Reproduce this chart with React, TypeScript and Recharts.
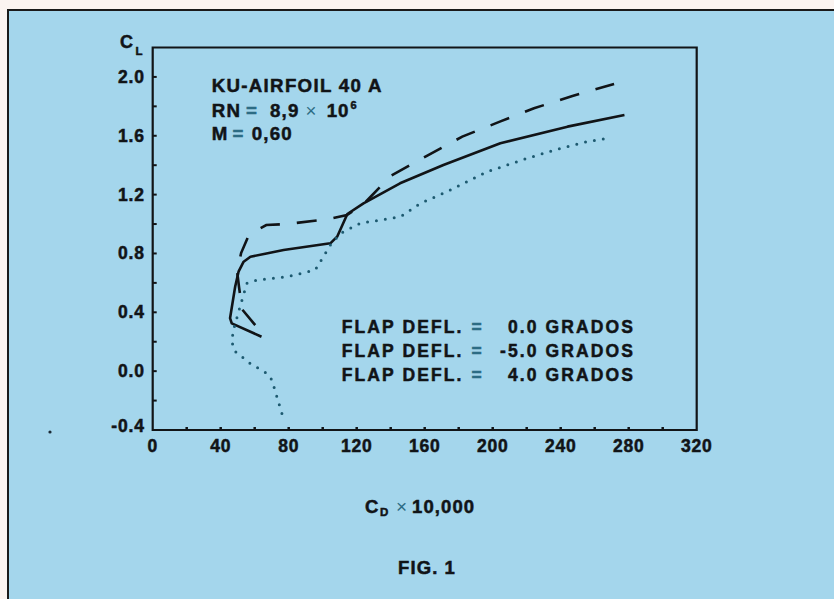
import { LineChart, Line, XAxis, YAxis, ReferenceArea } from 'recharts';

// C_D x 10,000 and C_L
const flap0Cd = [64, 46.5, 45.5, 48.5, 50.5, 53.5, 57.5, 77, 104.5, 108.5, 114.5, 124, 145.5, 171, 204.5, 244, 277.5];
const flap0Cl = [0.234, 0.325, 0.36, 0.574, 0.676, 0.744, 0.778, 0.823, 0.869, 0.914, 1.068, 1.141, 1.277, 1.401, 1.549, 1.662, 1.741];

const flapPlus4Cd = [60.3, 52.6, 50.8, 49.7, 52, 56.7, 66.8, 79.1, 102.7, 114.3, 124.1, 139.8, 161, 182.1, 204.2, 224.3, 246.9, 271.4];
const flapPlus4Cl = [0.313, 0.42, 0.57, 0.674, 0.803, 0.93, 0.993, 1.0, 1.032, 1.061, 1.136, 1.326, 1.462, 1.594, 1.696, 1.787, 1.87, 1.952];

const flapMinus5Cd = [76, 70.1, 67.2, 57.3, 47.5, 46.6, 47.5, 51.4, 55.4, 61.3, 79, 95.6, 104.5, 110.4, 122.2, 139.8, 145.7, 157.5, 173.2, 196.8, 220.4, 240, 255.7, 267.5];
const flapMinus5Cl = [-0.287, -0.06, -0.015, 0.053, 0.144, 0.212, 0.28, 0.438, 0.597, 0.62, 0.642, 0.687, 0.857, 0.937, 1.005, 1.039, 1.05, 1.141, 1.22, 1.356, 1.447, 1.515, 1.56, 1.583];

const xTicks = [0, 20, 40, 60, 80, 100, 120, 140, 160, 180, 200, 220, 240, 260, 280, 300, 320];
const yTicks = [-0.4, -0.2, 0, 0.2, 0.4, 0.6, 0.8, 1.0, 1.2, 1.4, 1.6, 1.8, 2.0];

const legendValues = ['0.0 GRADOS', '-5.0 GRADOS', '4.0 GRADOS'];

const toPoints = (cd: number[], cl: number[]) => cd.map((v, i) => ({ cd: v, cl: cl[i] }));

const ink = '#111417';
const teal = '#2c6c84';
const font = '"Liberation Sans", Arial, Helvetica, sans-serif';

const txt = { fontFamily: font, fontWeight: 'bold' as const, fill: ink, stroke: ink, strokeWidth: 0.5 };

const YTick = (props: any) => {
  const { x, y, payload } = props;
  const v = payload.value as number;
  const labelled = Math.round(v * 10) % 4 === 0;
  return (
    <g>
      <line x1={x} y1={y} x2={x + 4} y2={y} stroke={ink} strokeWidth={2} />
      {labelled && (
        <text x={x - 8} y={y} dy={v === -0.4 ? 2 : 6} textAnchor="end" fontSize={17.5} letterSpacing={0.8} {...txt}>
          {v.toFixed(1)}
        </text>
      )}
    </g>
  );
};

const XTick = (props: any) => {
  const { x, y, payload } = props;
  const v = payload.value as number;
  return (
    <g>
      {v > 0 && v < 320 && <line x1={x} y1={y} x2={x} y2={y - 3} stroke={ink} strokeWidth={2.5} />}
      {v % 40 === 0 && (
        <text x={x} y={y + 22} textAnchor="middle" fontSize={17.5} letterSpacing={0.8} {...txt}>
          {v}
        </text>
      )}
    </g>
  );
};

export default function App() {
  return (
    <div style={{ position: 'absolute', left: 0, top: 0, width: 834, height: 599, background: '#fbf4f1', overflow: 'hidden' }}>
      <div style={{
        position: 'absolute', left: 7, top: 9, width: 834, height: 600,
        background: '#a4d6ec', borderLeft: '2px solid #1a1a1a', borderTop: '2px solid #1a1a1a',
      }} />
      <div style={{ position: 'absolute', left: 0, top: 0 }}>
        <LineChart width={834} height={599} margin={{ top: 47.5, right: 137.3, bottom: 0, left: 0 }}>
          <XAxis type="number" dataKey="cd" domain={[0, 320]} ticks={xTicks} interval={0}
            axisLine={false} tickLine={false} tickSize={0} tickMargin={0} height={169} tick={<XTick />} />
          <YAxis type="number" dataKey="cl" domain={[-0.4, 2.2]} ticks={yTicks} interval={0}
            axisLine={false} tickLine={false} tickSize={0} tickMargin={0} width={152.7} tick={<YTick />} />
          <ReferenceArea x1={0} x2={320} y1={-0.4} y2={2.2} fill="none" stroke={ink} strokeWidth={2.2} />
          <Line data={toPoints(flap0Cd, flap0Cl)} dataKey="cl" type="linear" stroke={ink}
            strokeWidth={2.6} strokeLinejoin="round" dot={false} isAnimationActive={false} />
          <Line data={toPoints(flapPlus4Cd, flapPlus4Cl)} dataKey="cl" type="linear" stroke={ink}
            strokeWidth={2.6} strokeDasharray="20 17" dot={false} isAnimationActive={false} />
          <Line data={toPoints(flapMinus5Cd, flapMinus5Cl)} dataKey="cl" type="linear" stroke="#1d5a70"
            strokeWidth={3} strokeDasharray="0 9" strokeLinecap="round" dot={false} isAnimationActive={false} />
        </LineChart>
      </div>
      <svg width={834} height={599} style={{ position: 'absolute', left: 0, top: 0, pointerEvents: 'none' }}>
        <text x={120} y={48} fontSize={18} {...txt}>C</text>
        <text x={135.5} y={55} fontSize={11.5} {...txt}>L</text>

        <text x={211.7} y={91.7} fontSize={18.7} letterSpacing={1.3} {...txt}>KU-AIRFOIL 40 A</text>
        <text x={211.7} y={116.5} fontSize={18.7} letterSpacing={1.2} {...txt}>RN</text>
        <text x={246} y={116.5} fontSize={18.7} {...txt} fill={teal} stroke={teal}>=</text>
        <text x={270} y={116.5} fontSize={18.7} letterSpacing={1.2} {...txt}>8,9</text>
        <text x={305.5} y={116.5} fontSize={18.7} {...txt} fontWeight="normal" fill={teal} stroke="none">×</text>
        <text x={326.7} y={116.5} fontSize={18.7} letterSpacing={1} {...txt}>10</text>
        <text x={350.5} y={109} fontSize={11} {...txt}>6</text>
        <text x={211.7} y={140} fontSize={18.7} {...txt}>M</text>
        <text x={232.5} y={140} fontSize={18.7} {...txt} fill={teal} stroke={teal}>=</text>
        <text x={251.7} y={140} fontSize={18.7} letterSpacing={1.2} {...txt}>0,60</text>

        {legendValues.map((val, i) => (
          <g key={val}>
            <text x={341.7} y={333.3 + i * 24} fontSize={17.5} letterSpacing={2.1} {...txt}>FLAP DEFL.</text>
            <text x={471.5} y={333.3 + i * 24} fontSize={17.5} {...txt} fill={teal} stroke={teal}>=</text>
            <text x={635} y={333.3 + i * 24} fontSize={17.5} letterSpacing={2.1} textAnchor="end" {...txt}>{val}</text>
          </g>
        ))}

        <text x={365} y={513} fontSize={18.5} {...txt}>C</text>
        <text x={380} y={516} fontSize={11.5} {...txt}>D</text>
        <text x={396} y={513} fontSize={19} {...txt} fontWeight="normal" fill={teal} stroke="none">×</text>
        <text x={412} y={513} fontSize={18.5} letterSpacing={1.1} {...txt}>10,000</text>

        <text x={398} y={574} fontSize={18.5} letterSpacing={1.1} {...txt}>FIG. 1</text>

        <circle cx={50} cy={432} r={1.6} fill="#1a2a35" />
      </svg>
    </div>
  );
}
